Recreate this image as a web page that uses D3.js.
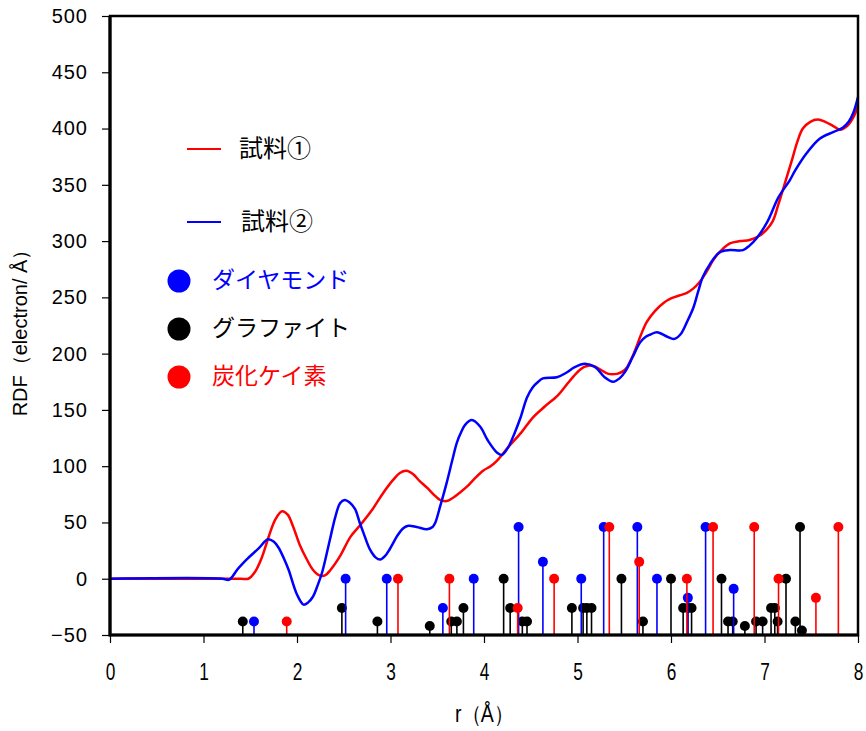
<!DOCTYPE html>
<html>
<head>
<meta charset="utf-8">
<script src="https://cdn.jsdelivr.net/npm/d3@7"></script>
<style>
  body { margin: 0; background: #fff; }
  .ytick text { font-family: "Liberation Sans", Arial, sans-serif; font-size: 20px; letter-spacing: 1px; }
  .xtick text { font-family: "Liberation Sans", Arial, sans-serif; font-size: 24px; }
  .jp { font-family: "Noto Sans CJK JP", sans-serif; }
</style>
</head>
<body>
<div id="chart"></div>
<script>
// RDF curves (r in Å, RDF value)
const sample1 = [[0,0],[1.2,0],[1.40,0],[1.48,0],[1.55,6],[1.62,18],[1.70,38],[1.77,53],[1.84,60],[1.90,57],[1.96,46],[2.03,30],[2.10,18],[2.17,8],[2.24,3],[2.30,3],[2.36,8],[2.46,20],[2.57,37],[2.67,47],[2.81,62],[2.92,76],[3.03,88],[3.10,94],[3.17,96],[3.24,93],[3.31,87],[3.39,81],[3.46,75],[3.53,70],[3.60,69],[3.67,72],[3.75,77],[3.82,82],[3.90,89],[3.99,96],[4.07,100],[4.14,105],[4.26,117],[4.40,130],[4.52,143],[4.65,153],[4.79,163],[4.88,172],[4.96,180],[5.03,186],[5.10,189],[5.17,189],[5.24,186],[5.33,182],[5.42,182],[5.48,184],[5.53,188],[5.58,196],[5.63,206],[5.68,217],[5.74,228],[5.83,238],[5.92,245],[6.00,249],[6.10,252],[6.17,254],[6.24,258],[6.30,263],[6.36,270],[6.41,277],[6.45,283],[6.54,292],[6.63,298],[6.74,300],[6.84,301],[6.95,305],[7.02,310],[7.09,318],[7.15,333],[7.22,352],[7.29,371],[7.35,388],[7.41,400],[7.49,406],[7.57,408],[7.65,406],[7.74,402],[7.81,399],[7.88,402],[7.95,410],[8.0,420]];

const sample2 = [[0,0],[1.2,0],[1.27,-1],[1.31,2],[1.36,8],[1.46,17],[1.59,27],[1.69,35],[1.75,33],[1.80,28],[1.86,18],[1.91,8],[2.00,-14],[2.07,-23],[2.12,-21],[2.17,-16],[2.22,-6],[2.27,6],[2.35,34],[2.41,55],[2.46,67],[2.51,70],[2.56,68],[2.62,62],[2.67,50],[2.71,41],[2.78,26],[2.84,19],[2.89,17],[2.94,20],[2.99,26],[3.08,39],[3.14,45],[3.19,47],[3.28,46],[3.39,44],[3.45,46],[3.48,50],[3.53,64],[3.60,85],[3.66,105],[3.71,121],[3.76,131],[3.80,137],[3.87,141],[3.96,135],[4.04,123],[4.14,112],[4.19,110],[4.26,117],[4.33,130],[4.39,143],[4.46,161],[4.52,170],[4.58,175],[4.63,178],[4.78,179],[4.88,183],[4.97,188],[5.08,191],[5.19,188],[5.29,179],[5.38,175],[5.45,178],[5.51,184],[5.59,197],[5.67,210],[5.73,215],[5.78,217],[5.85,219],[5.96,215],[6.03,213],[6.10,217],[6.17,228],[6.24,241],[6.29,255],[6.34,268],[6.42,280],[6.52,290],[6.63,292],[6.77,292],[6.84,296],[6.92,303],[7.03,317],[7.15,339],[7.27,354],[7.33,363],[7.45,378],[7.59,391],[7.74,397],[7.84,401],[7.90,406],[7.95,414],[8.0,428]];

// reference peak positions (r, marker height)
const diamond = [[1.54,-38],[2.52,0],[2.96,0],[3.56,-26],[3.89,0],[4.37,46],[4.63,15],[5.04,0],[5.28,46],[5.64,46],[5.85,0],[6.18,-17],[6.37,46],[6.67,-9]];

const graphite = [[1.42,-38],[2.48,-26],[2.86,-38],[3.42,-42],[3.65,-38],[3.71,-38],[3.78,-26],[4.21,0],[4.28,-26],[4.41,-38],[4.46,-38],[4.94,-26],[5.06,-26],[5.10,-26],[5.15,-26],[5.47,0],[5.70,-38],[6.00,0],[6.13,-26],[6.18,-26],[6.22,-26],[6.54,0],[6.61,-38],[6.66,-38],[6.79,-42],[6.91,-38],[6.98,-38],[7.07,-26],[7.11,-26],[7.14,-38],[7.23,0],[7.33,-38],[7.38,46],[7.40,-46]];

const sic = [[1.89,-38],[3.08,0],[3.63,0],[4.36,-26],[4.75,0],[5.34,46],[5.66,15],[6.17,0],[6.45,46],[6.89,46],[7.15,0],[7.55,-17],[7.79,46]];

const xTicks = [0,1,2,3,4,5,6,7,8];
const yTicks = [-50,0,50,100,150,200,250,300,350,400,450,500];

const lineLabels = ["試料①", "試料②"];
const phaseLabels = ["ダイヤモンド", "グラファイト", "炭化ケイ素"];

class RdfVis {
    constructor(parentElement) {
        this.parentElement = parentElement;
        this.initVis();
    }

    initVis() {
        let vis = this;

        vis.margin = { top: 16, right: 8, bottom: 96, left: 110 };
        vis.width = 866 - vis.margin.left - vis.margin.right;
        vis.height = 731 - vis.margin.top - vis.margin.bottom;

        vis.svg = d3.select(`#${vis.parentElement}`)
            .append('svg')
            .attr('width', 866)
            .attr('height', 731)
            .append('g')
            .attr('transform', `translate(${vis.margin.left},${vis.margin.top})`);

        vis.x = d3.scaleLinear().domain([0, 8]).range([0, vis.width]);
        vis.y = d3.scaleLinear().domain([-50, 500]).range([vis.height, 0]);

        // axes (ticks pointing outward)
        vis.svg.append('g')
            .attr('class', 'ytick')
            .call(d3.axisLeft(vis.y).tickValues(yTicks).tickSize(8).tickPadding(14).tickSizeOuter(0))
            .call(g => g.select('.domain').remove())
            .call(g => g.selectAll('line').attr('stroke-width', 1.2));

        // x tick labels are tall and narrow in the original, squeeze them
        vis.svg.append('g')
            .attr('class', 'xtick')
            .attr('transform', `translate(0,${vis.height})`)
            .call(d3.axisBottom(vis.x).tickValues(xTicks).tickSize(8).tickPadding(20).tickSizeOuter(0))
            .call(g => g.select('.domain').remove())
            .call(g => g.selectAll('line').attr('stroke-width', 1.2))
            .call(g => g.selectAll('text').attr('transform', 'scale(0.72,1)'));

        // stems
        const groups = [
            { data: graphite, color: '#000000' },
            { data: diamond, color: '#0000ff' },
            { data: sic, color: '#ff0000' }
        ];
        groups.forEach(grp => {
            const g = vis.svg.append('g');
            g.selectAll('line')
                .data(grp.data)
                .join('line')
                .attr('x1', d => vis.x(d[0]))
                .attr('x2', d => vis.x(d[0]))
                .attr('y1', vis.y(-50))
                .attr('y2', d => vis.y(d[1]))
                .attr('stroke', grp.color)
                .attr('stroke-width', 1.6);
            g.selectAll('circle')
                .data(grp.data)
                .join('circle')
                .attr('cx', d => vis.x(d[0]))
                .attr('cy', d => vis.y(d[1]))
                .attr('r', 5)
                .attr('fill', grp.color);
        });

        // curves
        vis.line = d3.line()
            .x(d => vis.x(d[0]))
            .y(d => vis.y(d[1]))
            .curve(d3.curveCatmullRom);

        vis.svg.append('path')
            .datum(sample1)
            .attr('fill', 'none')
            .attr('stroke', '#ff0000')
            .attr('stroke-width', 2.5)
            .attr('d', vis.line);

        vis.svg.append('path')
            .datum(sample2)
            .attr('fill', 'none')
            .attr('stroke', '#0000ff')
            .attr('stroke-width', 2.5)
            .attr('d', vis.line);

        // frame
        vis.svg.append('rect')
            .attr('x', 0).attr('y', 0)
            .attr('width', vis.width).attr('height', vis.height)
            .attr('fill', 'none')
            .attr('stroke', '#000')
            .attr('stroke-width', 2.5);
        vis.svg.append('path')
            .attr('d', `M0,0V${vis.height}H${vis.width}`)
            .attr('fill', 'none')
            .attr('stroke', '#000')
            .attr('stroke-width', 3.2);

        // axis titles
        vis.svg.append('text')
            .attr('transform', `translate(${vis.x(4)},${716 - vis.margin.top}) scale(0.85,1)`)
            .attr('text-anchor', 'middle')
            .attr('dominant-baseline', 'middle')
            .style('font-family', '"Liberation Sans", Arial, sans-serif')
            .style('font-size', '23px')
            .text('r（Å）');

        vis.svg.append('text')
            .attr('transform', `translate(${22 - vis.margin.left},${328 - vis.margin.top}) rotate(-90)`)
            .attr('text-anchor', 'middle')
            .attr('dominant-baseline', 'middle')
            .style('font-family', '"Liberation Sans", Arial, sans-serif')
            .style('font-size', '20px')
            .text('RDF（electron/ Å）');

        // legend
        const leg = d3.select(`#${vis.parentElement} svg`).append('g');
        const lineColors = ['#ff0000', '#0000ff'];
        const lineY = [149, 222];
        lineLabels.forEach((t, i) => {
            leg.append('line')
                .attr('x1', 187).attr('x2', 221)
                .attr('y1', lineY[i]).attr('y2', lineY[i])
                .attr('stroke', lineColors[i])
                .attr('stroke-width', 2.2);
            leg.append('text')
                .attr('class', 'jp')
                .attr('x', 239 + i * 2)
                .attr('y', lineY[i] + 1)
                .attr('dominant-baseline', 'middle')
                .style('font-size', '24px')
                .text(t);
        });
        const phaseColors = ['#0000ff', '#000000', '#ff0000'];
        const phaseY = [281, 329, 377];
        phaseLabels.forEach((t, i) => {
            leg.append('circle')
                .attr('cx', 179).attr('cy', phaseY[i]).attr('r', 11.5)
                .attr('fill', phaseColors[i]);
            leg.append('text')
                .attr('class', 'jp')
                .attr('x', 212)
                .attr('y', phaseY[i] + 1)
                .attr('dominant-baseline', 'middle')
                .attr('fill', phaseColors[i])
                .style('font-size', '23px')
                .text(t);
        });
    }
}

new RdfVis('chart');
</script>
</body>
</html>
